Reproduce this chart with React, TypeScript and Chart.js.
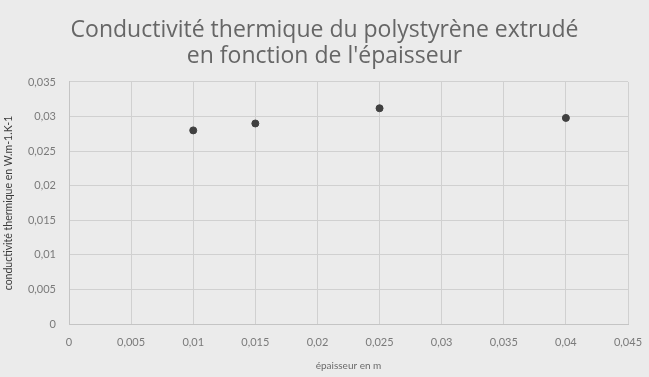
import React, { useEffect, useRef } from "react";
import { Chart, registerables } from "chart.js";

Chart.register(...registerables);

const thickness: number[] = [0.01, 0.015, 0.025, 0.04];
const conductivity: number[] = [0.028, 0.029, 0.0312, 0.0298];
const titleLines: string[] = ["Conductivité thermique du polystyrène extrudé", "en fonction de l'épaisseur"];
const xTitle = "épaisseur en m";
const yTitle = "conductivité thermique en W.m-1.K-1";
const xMin = 0, xMax = 0.045, xStep = 0.005;
const yMin = 0, yMax = 0.035, yStep = 0.005;

const fmt = (v: number) => {
  const s = String(Number(Number(v).toFixed(4)));
  return s.replace(".", ",");
};

const bgPlugin = {
  id: "bg",
  beforeDraw(chart: any) {
    const { ctx, width, height } = chart;
    ctx.save();
    ctx.fillStyle = "#ebebeb";
    ctx.fillRect(0, 0, width, height);
    ctx.restore();
  },
};

export default function App() {
  const ref = useRef<HTMLCanvasElement | null>(null);
  useEffect(() => {
    document.body.style.margin = "0";
    document.body.style.background = "#ebebeb";
    const chart = new Chart(ref.current as HTMLCanvasElement, {
      type: "scatter",
      data: {
        datasets: [
          {
            data: thickness.map((x, i) => ({ x, y: conductivity[i] })),
            backgroundColor: "#404040",
            borderColor: "#404040",
            pointRadius: 3.5,
            pointHoverRadius: 3.5,
          },
        ],
      },
      options: {
        animation: false,
        responsive: false,
        maintainAspectRatio: false,
        layout: { padding: 0 },
        plugins: {
          legend: { display: false },
          tooltip: { enabled: false },
          title: {
            display: true,
            text: titleLines,
            color: "#666666",
            font: { family: "'Open Sans', sans-serif", size: 23, weight: "normal", lineHeight: 1.13 },
            padding: { top: 17, bottom: 13 },
          },
        },
        scales: {
          x: {
            type: "linear",
            min: xMin,
            max: xMax,
            ticks: {
              stepSize: xStep,
              callback: (v: any) => fmt(v),
              color: "#7a7a7a",
              font: { family: "Lato, 'Open Sans', sans-serif", size: 11 },
              padding: 12,
              maxRotation: 0,
            },
            grid: { color: "#d0d0d0", drawTicks: false },
            border: { color: "#c4c4c4" },
            title: {
              display: true,
              text: xTitle,
              color: "#6a6a6a",
              font: { family: "Lato, 'Open Sans', sans-serif", size: 10 },
              padding: { top: 0, bottom: 5 },
            },
            afterFit: (s: any) => { s.height = 53; s.paddingRight = 21; s.paddingLeft = 0; },
          },
          y: {
            type: "linear",
            min: yMin,
            max: yMax,
            ticks: {
              stepSize: yStep,
              callback: (v: any) => fmt(v),
              color: "#7a7a7a",
              font: { family: "Lato, 'Open Sans', sans-serif", size: 11 },
              padding: 13,
            },
            grid: { color: "#d0d0d0", drawTicks: false },
            border: { color: "#c4c4c4" },
            title: {
              display: true,
              text: yTitle,
              color: "#3a3a3a",
              font: { family: "Lato, 'Open Sans', sans-serif", size: 10.5 },
              padding: { top: 2, bottom: 0 },
            },
            afterFit: (s: any) => { s.width = 69; },
          },
        },
      },
      plugins: [bgPlugin],
    } as any);
    return () => chart.destroy();
  }, []);
  return (
    <div style={{ position: "fixed", left: 0, top: 0, width: 649, height: 377, background: "#ebebeb" }}>
      <canvas ref={ref} width={649} height={377} style={{ width: 649, height: 377, display: "block" }} />
    </div>
  );
}
